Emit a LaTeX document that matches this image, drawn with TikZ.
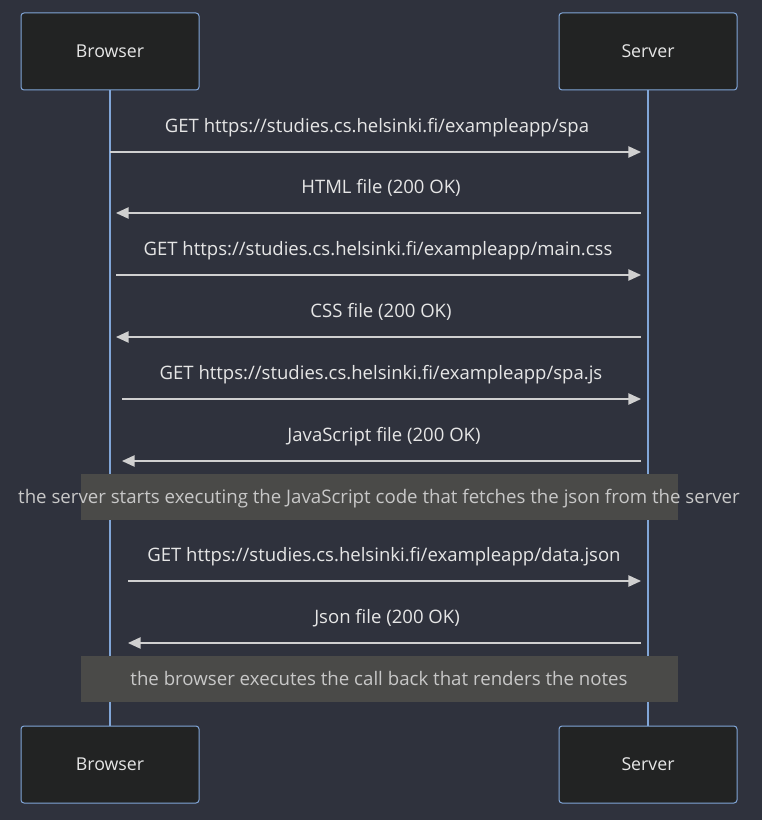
\documentclass[tikz,border=0pt]{standalone}
\usepackage{fontspec}
\setmainfont[Ligatures=NoCommon]{Open Sans}
\usetikzlibrary{arrows.meta}
\definecolor{bg}{HTML}{2F323D}
\definecolor{actfill}{HTML}{222323}
\definecolor{actline}{HTML}{81A6D8}
\definecolor{sig}{HTML}{D0D0D0}
\definecolor{txt}{HTML}{E6E6E6}
\definecolor{notefill}{HTML}{4A4A48}
\definecolor{notetxt}{HTML}{C8C8C8}
\begin{document}
\begin{tikzpicture}[x=0.75pt,y=-0.75pt,
  actor/.style={draw=actline, fill=actfill, rounded corners=2.25pt, line width=0.75pt,
    minimum width=133.5pt, minimum height=57.75pt, text=txt, inner sep=0pt,
    font=\fontsize{13.3}{15}\selectfont},
  lifeline/.style={draw=actline, line width=1.5pt},
  signal/.style={draw=sig, line width=1.1pt, -{Triangle[length=9.5pt,width=8.5pt]}},
  msg/.style={text=txt, anchor=base, inner sep=0pt, font=\fontsize{13.9}{16}\selectfont},
  notebox/.style={fill=notefill, draw=notefill, minimum width=447pt, minimum height=33.75pt, inner sep=0pt},
  notetext/.style={text=notetxt, anchor=base, inner sep=0pt, font=\fontsize{14}{16}\selectfont}]
\fill[bg] (0,0) rectangle (762,820);
\useasboundingbox (0,0) rectangle (762,820);

% actors
\node[actor] (bt) at (110,51.5) {Browser};
\node[actor] (st) at (648,51.5) {Server};
\node[actor] (bb) at (110,764.5) {Browser};
\node[actor] (sb) at (648,764.5) {Server};

% lifelines
\draw[lifeline] (bt.south) -- (bb.north);
\draw[lifeline] (st.south) -- (sb.north);

% message end points
\coordinate (a1) at (110,152); \coordinate (b1) at (641,152);
\coordinate (a2) at (641,213); \coordinate (b2) at (116,213);
\coordinate (a3) at (116,275); \coordinate (b3) at (641,275);
\coordinate (a4) at (641,337); \coordinate (b4) at (116,337);
\coordinate (a5) at (122,399); \coordinate (b5) at (641,399);
\coordinate (a6) at (641,461); \coordinate (b6) at (122,461);
\coordinate (a8) at (128,581); \coordinate (b8) at (641,581);
\coordinate (a9) at (641,643); \coordinate (b9) at (128,643);

\draw[signal] (a1) -- (b1);
\draw[signal] (a2) -- (b2);
\draw[signal] (a3) -- (b3);
\draw[signal] (a4) -- (b4);
\draw[signal] (a5) -- (b5);
\draw[signal] (a6) -- (b6);
\draw[signal] (a8) -- (b8);
\draw[signal] (a9) -- (b9);

\node[msg] (l1) at (377,132.5) {GET https://studies.cs.helsinki.fi/exampleapp/spa};
\node[msg] (l2) at (381,193.5) {HTML file (200 OK)};
\node[msg] (l3) at (378,255.5) {GET https://studies.cs.helsinki.fi/exampleapp/main.css};
\node[msg] (l4) at (381,317.5) {CSS file (200 OK)};
\node[msg] (l5) at (381,379.5) {GET https://studies.cs.helsinki.fi/exampleapp/spa.js};
\node[msg] (l6) at (384,441.5) {JavaScript file (200 OK)};
\node[msg] (l8) at (384,561.5) {GET https://studies.cs.helsinki.fi/exampleapp/data.json};
\node[msg] (l9) at (387,623.5) {Json file (200 OK)};

% notes
\node[notebox] (n1) at (379,496.5) {};
\node[notetext] (n1t) at (379,503) {the server starts executing the JavaScript code that fetches the json from the server};
\node[notebox] (n2) at (379,679) {};
\node[notetext] (n2t) at (379,685) {the browser executes the call back that renders the notes};
\end{tikzpicture}
\end{document}
